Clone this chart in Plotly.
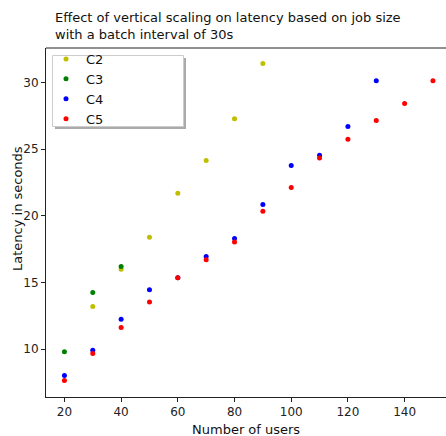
import plotly.graph_objects as go

users_c2 = [30, 40, 50, 60, 70, 80, 90]
lat_c2 = [13.2, 16.0, 18.4, 21.7, 24.15, 27.28, 31.43]

users_c3 = [20, 30, 40]
lat_c3 = [9.8, 14.25, 16.2]

users_c4 = [20, 30, 40, 50, 60, 70, 80, 90, 100, 110, 120, 130]
lat_c4 = [8.02, 9.92, 12.25, 14.45, 15.35, 16.95, 18.3, 20.85, 23.77, 24.55, 26.7, 30.13]

users_c5 = [20, 30, 40, 50, 60, 70, 80, 90, 100, 110, 120, 130, 140, 150]
lat_c5 = [7.65, 9.67, 11.62, 13.53, 15.35, 16.7, 18.03, 20.35, 22.12, 24.33, 25.75, 27.15, 28.43, 30.13]

series = [
    ("C2", users_c2, lat_c2, "#bfbf00"),
    ("C3", users_c3, lat_c3, "#008000"),
    ("C4", users_c4, lat_c4, "#0000ff"),
    ("C5", users_c5, lat_c5, "#ff0000"),
]

x_ticks = [20, 40, 60, 80, 100, 120, 140]
y_ticks = [10, 15, 20, 25, 30]

FONT = "DejaVu Sans"

fig = go.Figure()
for name, xs, ys, col in series:
    fig.add_trace(go.Scatter(x=xs, y=ys, mode="markers", name=name,
                             marker=dict(color=col, size=5, line=dict(width=0))))

W, H = 446, 436
L, R, T, B = 46, 0, 48, 39
pw, ph = W - L - R, H - T - B

def px_x(p):
    return (p - L) / pw

def px_y(p):
    return (H - B - p) / ph

axis_common = dict(showgrid=False, zeroline=False, showline=True, linecolor="#222",
                   linewidth=1, ticks="outside", ticklen=4, tickwidth=1, tickcolor="#222",
                   tickfont=dict(family=FONT, size=12, color="#222"))

fig.update_xaxes(range=[13.5, 154.6], tickvals=x_ticks, **axis_common)
fig.update_yaxes(range=[6.41, 32.59], tickvals=y_ticks, **axis_common)

fig.update_layout(
    width=W, height=H,
    margin=dict(l=L, r=R, t=T, b=B, pad=0),
    plot_bgcolor="white", paper_bgcolor="white",
    font=dict(family=FONT, size=13, color="#111"),
    legend=dict(x=px_x(46), y=px_y(44), xanchor="left", yanchor="top",
                bgcolor="rgba(0,0,0,0)", borderwidth=0,
                font=dict(family=FONT, size=13, color="#111"),
                itemwidth=30, tracegroupgap=0),
    shapes=[
        dict(type="line", xref="paper", yref="paper", x0=0, x1=1, y0=1, y1=1,
             line=dict(color="#222", width=1)),
        dict(type="rect", xref="paper", yref="paper",
             x0=px_x(55), x1=px_x(186), y0=px_y(129), y1=px_y(58),
             fillcolor="#aaaaaa", line=dict(width=0), layer="above"),
        dict(type="rect", xref="paper", yref="paper",
             x0=px_x(52.5), x1=px_x(183.5), y0=px_y(126.5), y1=px_y(55.5),
             fillcolor="white", line=dict(color="#cccccc", width=1), layer="above"),
    ],
    annotations=[
        dict(text="Effect of vertical scaling on latency based on job size<br>with a batch interval of 30s",
             xref="paper", yref="paper", x=px_x(53), y=px_y(8), xanchor="left", yanchor="top",
             align="left", showarrow=False, font=dict(family=FONT, size=13, color="#111")),
        dict(text="Number of users", xref="paper", yref="paper", x=px_x(246), y=px_y(429),
             xanchor="center", yanchor="middle", showarrow=False,
             font=dict(family=FONT, size=13, color="#111")),
        dict(text="Latency in seconds", xref="paper", yref="paper", x=px_x(17), y=px_y(209),
             xanchor="center", yanchor="middle", textangle=-90, showarrow=False,
             font=dict(family=FONT, size=13, color="#111")),
    ],
    showlegend=True,
)

fig.write_html("out.html", config={"displayModeBar": False},
               post_script="document.body.style.margin='0';document.body.style.overflow='hidden';")
